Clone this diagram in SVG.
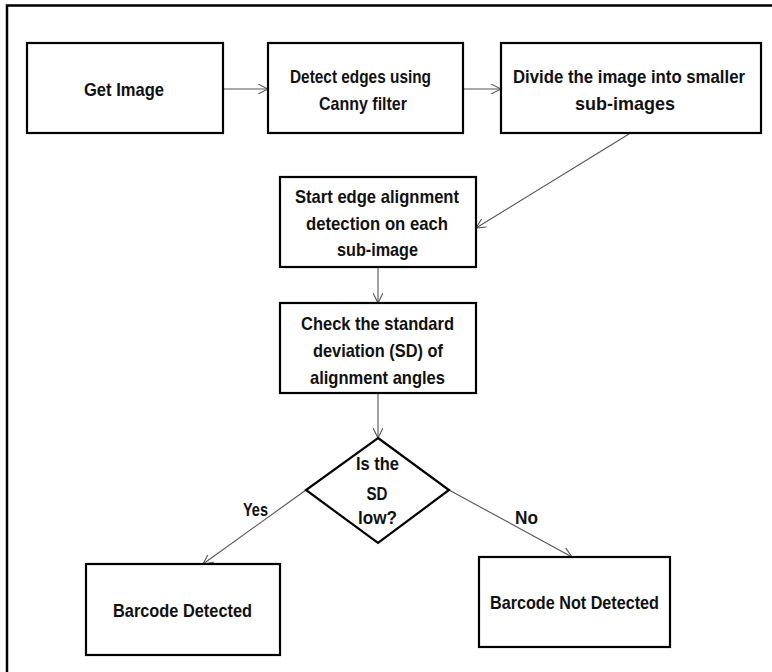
<svg xmlns="http://www.w3.org/2000/svg" width="772" height="672" viewBox="0 0 772 672">
<style>
.box{fill:#fff;stroke:#000;stroke-width:2.2}
.t{font-family:"Liberation Sans",Arial,sans-serif;font-weight:bold;font-size:19px;fill:#111;text-anchor:middle}
.s{font-size:17.5px}
.c{fill:none;stroke:#555;stroke-width:1.1}
</style>
<defs>
<marker id="arr" viewBox="0 0 10 10" refX="10" refY="5" markerWidth="10" markerHeight="10" markerUnits="userSpaceOnUse" orient="auto">
<path d="M0,0 L10,5 L0,10" fill="none" stroke="#555" stroke-width="1.1"/>
</marker>
</defs>
<rect width="772" height="672" fill="#fff"/>
<path d="M7,672 V5.5 H772" fill="none" stroke="#000" stroke-width="2.5"/>
<g id="connectors">
<line class="c" x1="223" y1="89" x2="268" y2="89" marker-end="url(#arr)"/>
<line class="c" x1="463" y1="89" x2="501" y2="89" marker-end="url(#arr)"/>
<line class="c" x1="629" y1="134" x2="476" y2="228" marker-end="url(#arr)"/>
<line class="c" x1="378" y1="267" x2="378" y2="303" marker-end="url(#arr)"/>
<line class="c" x1="378" y1="393" x2="378" y2="438" marker-end="url(#arr)"/>
<line class="c" x1="306" y1="490" x2="203" y2="564" marker-end="url(#arr)"/>
<line class="c" x1="449" y1="490" x2="572" y2="557" marker-end="url(#arr)"/>
<text class="t" x="255.5" y="516" textLength="25" lengthAdjust="spacingAndGlyphs">Yes</text>
<text class="t" x="526.5" y="524" textLength="23" lengthAdjust="spacingAndGlyphs">No</text>
</g>
<g id="get-image">
<rect class="box" x="27" y="43" width="196" height="90"/>
<text class="t" x="124" y="96" textLength="80" lengthAdjust="spacingAndGlyphs">Get Image</text>
</g>
<g id="detect-edges">
<rect class="box" x="268" y="43" width="195" height="90"/>
<text class="t" x="360.5" y="83" textLength="141" lengthAdjust="spacingAndGlyphs">Detect edges using</text>
<text class="t" x="363" y="110" textLength="88" lengthAdjust="spacingAndGlyphs">Canny filter</text>
</g>
<g id="divide">
<rect class="box" x="501" y="43" width="260" height="90"/>
<text class="t s" x="629" y="83" textLength="232" lengthAdjust="spacingAndGlyphs">Divide the image into smaller</text>
<text class="t" x="625" y="110" textLength="100" lengthAdjust="spacingAndGlyphs">sub-images</text>
</g>
<g id="start-edge">
<rect class="box" x="280" y="177" width="196" height="90"/>
<text class="t" x="377" y="203" textLength="164" lengthAdjust="spacingAndGlyphs">Start edge alignment</text>
<text class="t" x="377" y="230" textLength="142" lengthAdjust="spacingAndGlyphs">detection on each</text>
<text class="t" x="377.5" y="256" textLength="81" lengthAdjust="spacingAndGlyphs">sub-image</text>
</g>
<g id="check-sd">
<rect class="box" x="280" y="303" width="196" height="90"/>
<text class="t" x="377.5" y="330" textLength="153" lengthAdjust="spacingAndGlyphs">Check the standard</text>
<text class="t" x="378" y="357" textLength="130" lengthAdjust="spacingAndGlyphs">deviation (SD) of</text>
<text class="t" x="377.5" y="384" textLength="135" lengthAdjust="spacingAndGlyphs">alignment angles</text>
</g>
<g id="decision">
<polygon class="box" points="378,438 449,490 378,543 306,490"/>
<text class="t" x="377.5" y="470" textLength="43" lengthAdjust="spacingAndGlyphs">Is the</text>
<text class="t" x="377" y="500" textLength="21" lengthAdjust="spacingAndGlyphs">SD</text>
<text class="t" x="377.5" y="524" textLength="39" lengthAdjust="spacingAndGlyphs">low?</text>
</g>
<g id="barcode-detected">
<rect class="box" x="86" y="564" width="194" height="91"/>
<text class="t" x="182.5" y="617" textLength="139" lengthAdjust="spacingAndGlyphs">Barcode Detected</text>
</g>
<g id="barcode-not-detected">
<rect class="box" x="479" y="557" width="191" height="90"/>
<text class="t" x="574.5" y="609" textLength="169" lengthAdjust="spacingAndGlyphs">Barcode Not Detected</text>
</g>
</svg>
